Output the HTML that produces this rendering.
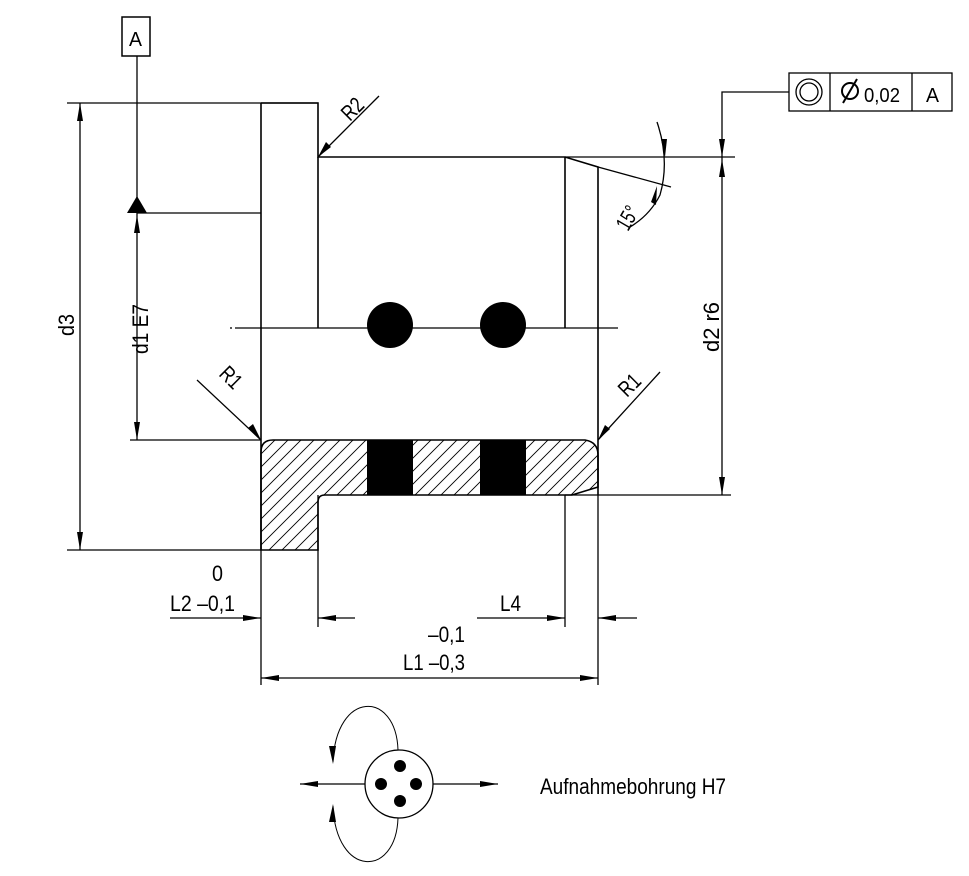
<!DOCTYPE html>
<html><head><meta charset="utf-8"><style>
html,body{margin:0;padding:0;background:#fff;}
svg{display:block;}
text{font-family:"Liberation Sans Narrow","Liberation Sans",sans-serif;fill:#000;}
</style></head><body>
<svg width="969" height="876" viewBox="0 0 969 876" xmlns="http://www.w3.org/2000/svg">
<defs>
<pattern id="h" patternUnits="userSpaceOnUse" width="13" height="13">
<path d="M-1,14 L14,-1 M-7,7 L7,-7 M6,20 L20,6" stroke="#000" stroke-width="0.9"/>
</pattern>
</defs>
<g stroke="#000" fill="none" stroke-width="1.3">
<rect x="122" y="17" width="28" height="39" stroke-width="1.5"/>
<line x1="137" y1="56" x2="137" y2="440"/>
<line x1="137" y1="213" x2="261" y2="213"/>
<line x1="67" y1="103" x2="318" y2="103"/>
<line x1="67" y1="550" x2="261" y2="550"/>
<line x1="80" y1="103" x2="80" y2="550"/>
<line x1="130" y1="440" x2="261" y2="440"/>
<path d="M261,103 L318,103 L318,157 L565,157 L598,167 L598,495" stroke-width="1.6"/>
<line x1="261" y1="103" x2="261" y2="550" stroke-width="1.6"/>
<line x1="565" y1="157" x2="565" y2="328" stroke-width="1.6"/>
<line x1="318" y1="157" x2="318" y2="328" stroke-width="1.6"/>
<line x1="565" y1="157" x2="735" y2="157"/>
<line x1="598" y1="167" x2="671" y2="187"/>
<line x1="235" y1="328" x2="618" y2="328"/>
<line x1="230" y1="328" x2="232" y2="328"/>
<path d="M261,550 L261,452 Q261,440 273,440 L585,440 Q598,442 598,455 L598,487 L572,495 L325,495 Q318,495 318,502 L318,550 Z" fill="url(#h)" stroke-width="1.6"/>
<line x1="565" y1="495" x2="731" y2="495"/>
<path d="M789,92 L722,92 L722,495"/>
<path d="M657,122 Q670,160 660,195 Q650,215 630,227"/>
<line x1="379" y1="96" x2="318" y2="157"/>
<line x1="197" y1="380" x2="261" y2="440"/>
<line x1="660" y1="372" x2="598" y2="440"/>
<line x1="318" y1="495" x2="318" y2="627"/>
<line x1="565" y1="495" x2="565" y2="627"/>
<line x1="261" y1="550" x2="261" y2="685"/>
<line x1="598" y1="495" x2="598" y2="685"/>
<line x1="170" y1="618" x2="261" y2="618"/>
<line x1="318" y1="618" x2="355" y2="618"/>
<line x1="477" y1="618" x2="565" y2="618"/>
<line x1="598" y1="618" x2="637" y2="618"/>
<line x1="261" y1="678" x2="598" y2="678"/>
<circle cx="399" cy="784" r="34"/>
<line x1="300" y1="784" x2="365" y2="784"/>
<line x1="433" y1="784" x2="498" y2="784"/>
<path d="M398,750 C396,690 336,690 333,762" stroke-width="1"/>
<path d="M398,818 C396,878 336,878 333,806" stroke-width="1"/>
</g>
<g stroke="#000" fill="none" stroke-width="1.3">
<rect x="789" y="73" width="163" height="38"/>
<line x1="830" y1="73" x2="830" y2="111"/>
<line x1="912" y1="73" x2="912" y2="111"/>
<circle cx="809" cy="92" r="13"/>
<circle cx="809" cy="92" r="9"/>
<circle cx="850" cy="91" r="8" stroke-width="2"/>
<line x1="843" y1="103" x2="857" y2="79" stroke-width="2"/>
</g>
<g fill="#000">
<circle cx="390" cy="325" r="23"/>
<circle cx="503" cy="325" r="23"/>
<rect x="367" y="440" width="46" height="55"/>
<rect x="480" y="440" width="46" height="55"/>
<circle cx="400" cy="766" r="6"/><circle cx="381" cy="784" r="6"/>
<circle cx="416" cy="784" r="6"/><circle cx="400" cy="801" r="6"/>
<polygon points="127,213 147,213 137,196"/>
<polygon points="137,215 134,233 140,233"/>
<polygon points="137,440 134,422 140,422"/>
<polygon points="80,103 77,121 83,121"/>
<polygon points="80,550 77,532 83,532"/>
<polygon points="722,157 719,139 725,139"/>
<polygon points="722,159 719,177 725,177"/>
<polygon points="722,495 719,477 725,477"/>
<polygon points="665,157 661,139 667,139"/>
<polygon points="657,186 651,202 656,205"/>
<polygon points="318,157 326,142 331,147"/>
<polygon points="261,440 248,428 253,424"/>
<polygon points="598,440 605,425 610,429"/>
<polygon points="261,618 243,615 243,621"/>
<polygon points="318,618 336,615 336,621"/>
<polygon points="565,618 547,615 547,621"/>
<polygon points="598,618 616,615 616,621"/>
<polygon points="261,678 279,675 279,681"/>
<polygon points="598,678 580,675 580,681"/>
<polygon points="300,784 318,781 318,787"/>
<polygon points="498,784 480,781 480,787"/>
<polygon points="333,764 329,746 336,746"/>
<polygon points="333,804 329,822 336,822"/>
</g>
<g font-size="22" lengthAdjust="spacingAndGlyphs">
<text x="129" y="46" font-size="20" textLength="13" lengthAdjust="spacingAndGlyphs">A</text>
<text x="926" y="102" font-size="20" textLength="13" lengthAdjust="spacingAndGlyphs">A</text>
<text x="864" y="102" font-size="20" textLength="36" lengthAdjust="spacingAndGlyphs">0,02</text>
<text transform="translate(74,336) rotate(-90)" textLength="22" lengthAdjust="spacingAndGlyphs">d3</text>
<text transform="translate(148,354) rotate(-90)" textLength="50" lengthAdjust="spacingAndGlyphs">d1 E7</text>
<text transform="translate(719,352) rotate(-90)" textLength="50" lengthAdjust="spacingAndGlyphs">d2 r6</text>
<text transform="translate(350,122) rotate(-45)" textLength="22" lengthAdjust="spacingAndGlyphs">R2</text>
<text transform="translate(218,375) rotate(45)" textLength="22" lengthAdjust="spacingAndGlyphs">R1</text>
<text transform="translate(627,398) rotate(-45)" textLength="22" lengthAdjust="spacingAndGlyphs">R1</text>
<text transform="translate(628,232) rotate(-60)" textLength="24" lengthAdjust="spacingAndGlyphs">15°</text>
<text x="212" y="581" textLength="11" lengthAdjust="spacingAndGlyphs">0</text>
<text x="170" y="611" textLength="65" lengthAdjust="spacingAndGlyphs">L2 –0,1</text>
<text x="500" y="611" textLength="21" lengthAdjust="spacingAndGlyphs">L4</text>
<text x="428" y="642" textLength="37" lengthAdjust="spacingAndGlyphs">–0,1</text>
<text x="403" y="670" textLength="62" lengthAdjust="spacingAndGlyphs">L1 –0,3</text>
<text x="540" y="794" textLength="186" lengthAdjust="spacingAndGlyphs">Aufnahmebohrung H7</text>
</g>
</svg>
</body></html>
